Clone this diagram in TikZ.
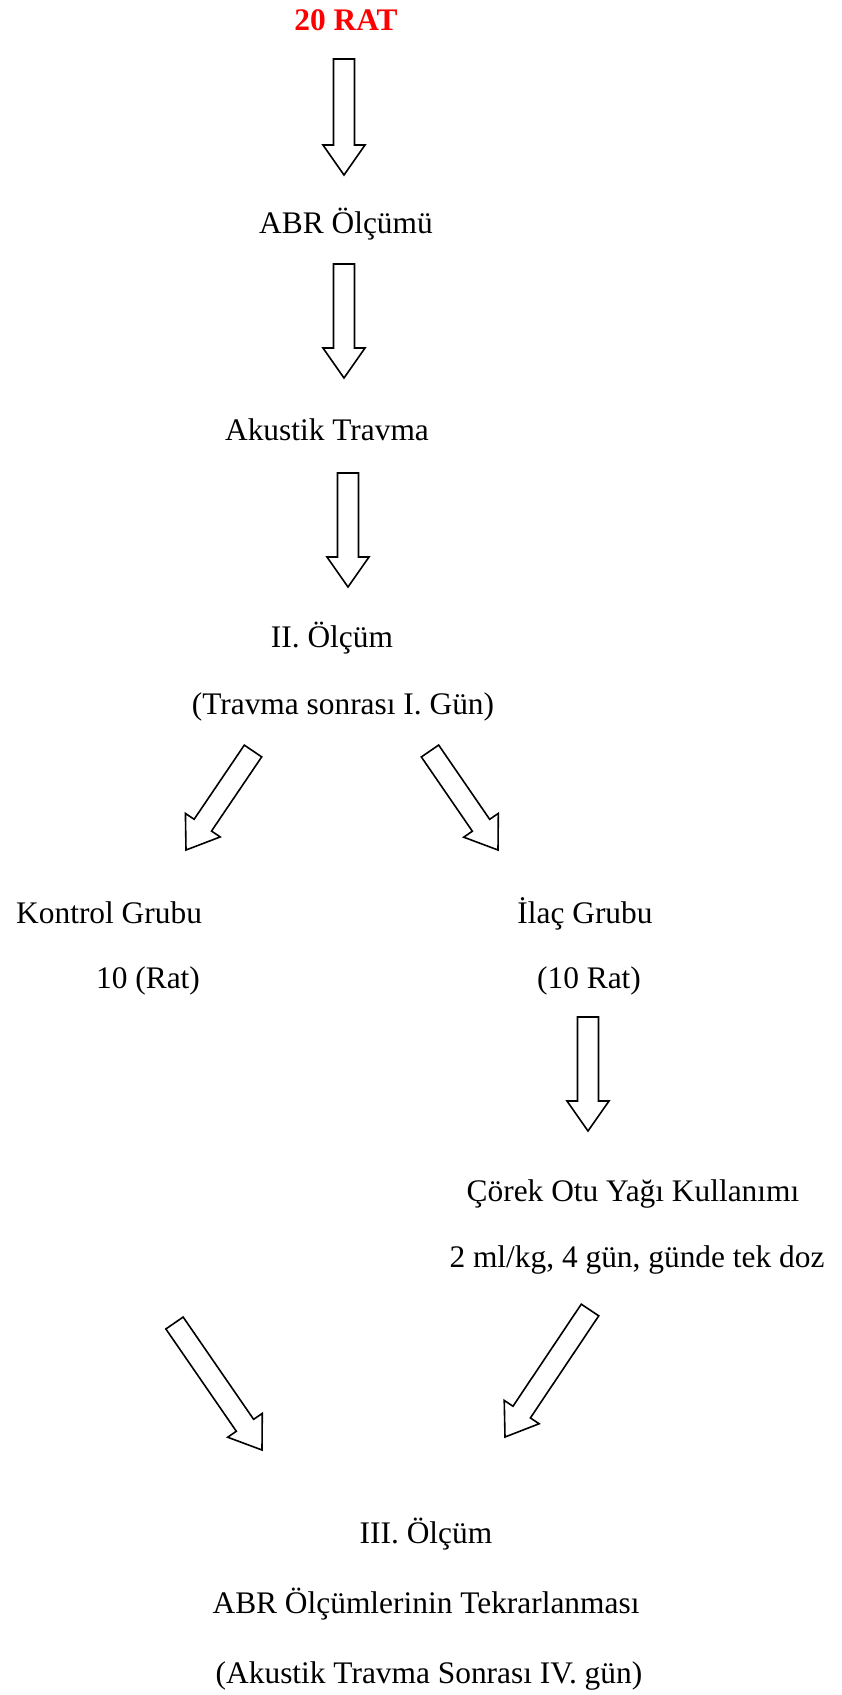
\documentclass[tikz,border=0pt]{standalone}
\usepackage{fontspec}
\setmainfont{Liberation Serif}
\usetikzlibrary{calc}
\definecolor{titlered}{RGB}{255,0,0}
\tikzset{
  lbl/.style={anchor=base, inner sep=0pt, font=\fontsize{31.4}{37}\selectfont},
  lblleft/.style={lbl, anchor=base west},
  titlelbl/.style={lbl, font=\fontsize{31.4}{37}\selectfont\bfseries, text=titlered},
  blockar/.style={draw=black, line width=1.6pt, fill=white, line join=miter}
}
\newcommand{\blockarr}[2]{%
  \coordinate (hb) at ($(#2)!30pt!(#1)$);
  \draw[blockar] ($(#1)!10.5pt!90:(#2)$) -- ($(hb)!10.5pt!90:(#2)$) -- ($(hb)!21pt!90:(#2)$) -- (#2)
    -- ($(hb)!21pt!-90:(#2)$) -- ($(hb)!10.5pt!-90:(#2)$) -- ($(#1)!10.5pt!-90:(#2)$) -- cycle;
}
\begin{document}
\begin{tikzpicture}[x=1pt,y=-1pt]
\useasboundingbox (0,0) rectangle (841,1695);
% texts
\node[titlelbl] (rat) at (346,30) {20 RAT};
\node[lbl] (abr) at (346,233) {ABR Ölçümü};
\node[lbl] (akt) at (327,440) {Akustik Travma};
\node[lbl] (ii) at (332,647) {II. Ölçüm};
\node[lbl] (iigun) at (343,714) {(Travma sonrası I. Gün)};
\node[lblleft] (kon) at (16,923) {Kontrol Grubu};
\node[lbl] (konrat) at (148,988) {10 (Rat)};
\node[lbl] (ilac) at (585,923) {İlaç Grubu};
\node[lbl] (ilacrat) at (589,988) {(10 Rat)};
\node[lbl] (corek) at (633,1201) {Çörek Otu Yağı Kullanımı};
\node[lbl] (doz) at (637,1267) {2 ml/kg, 4 gün, günde tek doz};
\node[lbl] (iii) at (426,1543) {III. Ölçüm};
\node[lbl] (tekrar) at (426,1613) {ABR Ölçümlerinin Tekrarlanması};
\node[lbl] (ivgun) at (429,1683) {(Akustik Travma Sonrası IV. gün)};
% arrow end points
\coordinate (a1s) at (344,59);   \coordinate (a1e) at (344,175);
\coordinate (a2s) at (344,264);  \coordinate (a2e) at (344,378);
\coordinate (a3s) at (348,473);  \coordinate (a3e) at (348,587);
\coordinate (a4s) at (253,751);  \coordinate (a4e) at (186,850);
\coordinate (a5s) at (430,751);  \coordinate (a5e) at (498,850);
\coordinate (a6s) at (588,1017); \coordinate (a6e) at (588,1131);
\coordinate (a7s) at (174.5,1323); \coordinate (a7e) at (262,1450);
\coordinate (a8s) at (590,1310); \coordinate (a8e) at (505,1437);
% arrows
\blockarr{a1s}{a1e}
\blockarr{a2s}{a2e}
\blockarr{a3s}{a3e}
\blockarr{a4s}{a4e}
\blockarr{a5s}{a5e}
\blockarr{a6s}{a6e}
\blockarr{a7s}{a7e}
\blockarr{a8s}{a8e}
\end{tikzpicture}
\end{document}
